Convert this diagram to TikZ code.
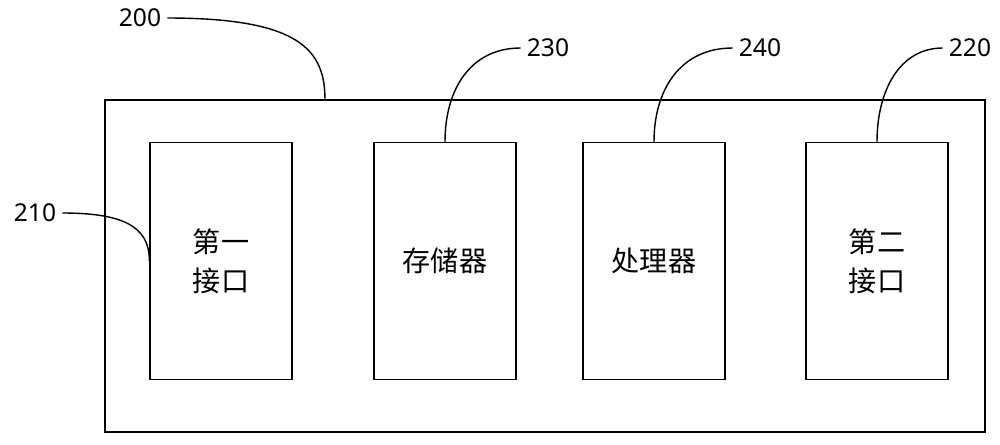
\documentclass[tikz,border=0pt]{standalone}
\usepackage{fontspec}
\newfontfamily\cjk{Noto Sans CJK SC}
\setsansfont{Noto Sans}
\begin{document}
\begin{tikzpicture}[x=0.02cm,y=-0.02cm,
    unit/.style={draw,line width=0.8pt,minimum width=2.84cm,minimum height=4.74cm,align=center,font=\cjk\fontsize{16}{22}\selectfont},
    tag/.style={font=\sffamily\fontsize{14}{16}\selectfont},
    lead/.style={line width=0.8pt}]
    \useasboundingbox (0,0) rectangle (1000,444);
    \draw[line width=0.8pt] (105,100) rectangle (985,432);          % housing
    \coordinate (top) at (325,100);
    \node[unit] (if1) at (221,261) {第一\\接口};
    \node[unit] (mem) at (445,261) {存储器};
    \node[unit] (cpu) at (654,261) {处理器};
    \node[unit] (if2) at (877,261) {第二\\接口};
    \node[tag] (l200) at (140,18) {200};
    \node[tag] (l230) at (548,48) {230};
    \node[tag] (l240) at (760,48) {240};
    \node[tag] (l220) at (970,48) {220};
    \node[tag] (l210) at (35,213) {210};
    % leaders
    \draw[lead] (l200.east) .. controls (300,18) and (325,50) .. (top);
    \draw[lead] (l230.west) .. controls (470,48) and (445,90) .. (mem.north);
    \draw[lead] (l240.west) .. controls (680,48) and (654,90) .. (cpu.north);
    \draw[lead] (l220.west) .. controls (900,48) and (877,90) .. (if2.north);
    \draw[lead] (l210.east) .. controls (120,213) and (150,225) .. (if1.west);
\end{tikzpicture}
\end{document}
